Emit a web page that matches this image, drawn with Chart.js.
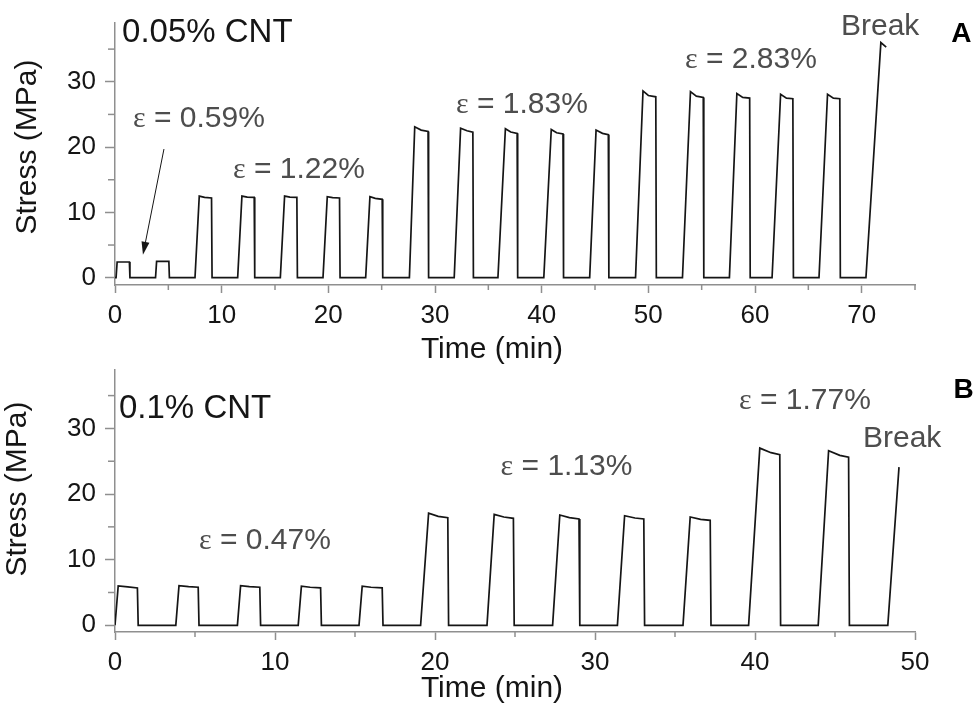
<!DOCTYPE html>
<html>
<head>
<meta charset="utf-8">
<script src="https://cdn.jsdelivr.net/npm/chart.js@4.4.1/dist/chart.umd.min.js"></script>
<style>
    html, body { margin: 0; padding: 0; background: #fff; }
    .panel { position: absolute; left: 0; }
    #panelA { top: 0; }
    #panelB { top: 365px; }
</style>
</head>
<body>
<div class="panel" id="panelA"><canvas id="chartA" width="977" height="365"></canvas></div>
<div class="panel" id="panelB"><canvas id="chartB" width="977" height="342"></canvas></div>
<script>
// Panel A: 0.05% CNT, stress vs time
const timeA = [
    0, 0.1, 0.2, 1.35, 1.4,
    3.8, 3.9, 5.05, 5.1,
    7.5, 7.9, 8.4, 9.05, 9.1,
    11.5, 11.9, 12.4, 13.05, 13.1,
    15.5, 15.9, 16.4, 17.05, 17.1,
    19.5, 19.9, 20.4, 21.05, 21.1,
    23.5, 23.9, 24.4, 25.05, 25.1,
    27.6, 28.1, 28.7, 29.35, 29.4,
    31.8, 32.4, 33.0, 33.55, 33.6,
    35.9, 36.6, 37.1, 37.7, 37.75,
    40.2, 40.9, 41.4, 42.0, 42.05,
    44.5, 45.1, 45.7, 46.25, 46.3,
    48.8, 49.5, 50.0, 50.7, 50.75,
    53.2, 53.95, 54.5, 55.15, 55.2,
    57.6, 58.3, 58.85, 59.5, 59.55,
    61.6, 62.4, 62.95, 63.55, 63.6,
    66.0, 66.8, 67.35, 67.95, 68.0,
    70.4, 71.8, 72.3
];
const stressA = [
    0, 0, 2.4, 2.4, 0,
    0, 2.5, 2.5, 0,
    0, 12.5, 12.3, 12.2, 0,
    0, 12.5, 12.35, 12.3, 0,
    0, 12.5, 12.35, 12.3, 0,
    0, 12.4, 12.25, 12.2, 0,
    0, 12.4, 12.15, 12.0, 0,
    0, 23.1, 22.6, 22.4, 0,
    0, 22.9, 22.5, 22.3, 0,
    0, 22.8, 22.3, 22.1, 0,
    0, 22.7, 22.2, 22.0, 0,
    0, 22.6, 22.1, 21.9, 0,
    0, 28.6, 27.9, 27.7, 0,
    0, 28.5, 27.8, 27.6, 0,
    0, 28.2, 27.6, 27.5, 0,
    0, 28.1, 27.5, 27.4, 0,
    0, 28.1, 27.5, 27.4, 0,
    0, 36.0, 35.3
];

// Panel B: 0.1% CNT
const timeB = [
    0, 0.2, 0.8, 1.4, 1.45,
    3.8, 4.0, 4.6, 5.2, 5.25,
    7.65, 7.85, 8.4, 9.05, 9.1,
    11.45, 11.65, 12.2, 12.85, 12.9,
    15.25, 15.45, 16.0, 16.7, 16.75,
    19.1, 19.6, 20.2, 20.8, 20.85,
    23.25, 23.7, 24.3, 24.9, 24.95,
    27.35, 27.8, 28.4, 29.0, 29.05,
    31.4, 31.85, 32.5, 33.05, 33.1,
    35.5, 35.95, 36.6, 37.2, 37.25,
    39.6, 40.3, 41.0, 41.55, 41.6,
    43.95, 44.6, 45.3, 45.85, 45.9,
    48.3, 49.0
];
const stressB = [
    0, 6.0, 5.85, 5.7, 0,
    0, 6.05, 5.9, 5.8, 0,
    0, 6.05, 5.9, 5.8, 0,
    0, 5.95, 5.8, 5.7, 0,
    0, 5.95, 5.8, 5.7, 0,
    0, 17.1, 16.6, 16.4, 0,
    0, 16.9, 16.5, 16.3, 0,
    0, 16.8, 16.4, 16.2, 0,
    0, 16.7, 16.35, 16.2, 0,
    0, 16.5, 16.15, 16.0, 0,
    0, 27.0, 26.3, 26.0, 0,
    0, 26.6, 25.9, 25.6, 0,
    0, 24.1
];

// Axis ticks
const xTicksA = [0, 5, 10, 15, 20, 25, 30, 35, 40, 45, 50, 55, 60, 65, 70, 75];
const xTicksB = [0, 5, 10, 15, 20, 25, 30, 35, 40, 45, 50];
const yTicks = [0, 5, 10, 15, 20, 25, 30, 35];

// Strain labels [text, time, stress]
const strainA = [['0.59%', 1.69, 23.1], ['1.22%', 11.06, 15.3], ['1.83%', 31.97, 25.25], ['2.83%', 53.44, 32.15]];
const strainB = [['0.47%', 5.25, 11.6], ['1.13%', 24.1, 22.9], ['1.77%', 39.0, 32.9]];

const AXIS = '#8f8f8f';
const INK = '#151515';
const NOTE = '#4d4d4d';
const SANS = '"Liberation Sans", Arial, sans-serif';

function toPoints(xs, ys) {
    return xs.map((x, i) => ({ x: x, y: ys[i] }));
}

function drawStrain(ctx, text, x, y) {
    ctx.fillStyle = NOTE;
    ctx.textAlign = 'left';
    ctx.textBaseline = 'alphabetic';
    ctx.font = '30px "Liberation Serif", serif';
    ctx.fillText('\u03b5', x, y);
    const w = ctx.measureText('\u03b5').width;
    ctx.font = '30px ' + SANS;
    ctx.fillText(' = ' + text, x + w, y);
}

// Minor ticks, axis titles and labels
const decorPlugin = {
    id: 'decor',
    afterDraw(chart, args, opts) {
        const ctx = chart.ctx;
        const xs = chart.scales.x, ys = chart.scales.y;
        ctx.save();
        ctx.strokeStyle = AXIS;
        ctx.lineWidth = 1.5;
        xs.ticks.forEach(t => {
            if (t.value % 10 === 0) return;
            const px = xs.getPixelForValue(t.value);
            ctx.beginPath();
            ctx.moveTo(px, xs.top);
            ctx.lineTo(px, xs.top + 5);
            ctx.stroke();
        });
        ys.ticks.forEach(t => {
            if (t.value % 10 === 0) return;
            const py = ys.getPixelForValue(t.value);
            ctx.beginPath();
            ctx.moveTo(ys.right, py);
            ctx.lineTo(ys.right - 7, py);
            ctx.stroke();
        });

        // axis titles
        ctx.fillStyle = INK;
        ctx.font = '30px ' + SANS;
        ctx.textAlign = 'center';
        ctx.textBaseline = 'alphabetic';
        ctx.fillText('Time (min)', opts.xTitle[0], opts.xTitle[1]);
        ctx.save();
        ctx.translate(opts.yTitle[0], opts.yTitle[1]);
        ctx.rotate(-Math.PI / 2);
        ctx.fillText('Stress (MPa)', 0, 0);
        ctx.restore();

        // sample name
        ctx.textAlign = 'left';
        ctx.font = '33px ' + SANS;
        ctx.fillText(opts.name[0], xs.getPixelForValue(opts.name[1]), ys.getPixelForValue(opts.name[2]));

        // strain labels
        opts.strain.forEach(s => drawStrain(ctx, s[0], xs.getPixelForValue(s[1]), ys.getPixelForValue(s[2])));

        // break
        ctx.fillStyle = NOTE;
        ctx.font = '30px ' + SANS;
        ctx.fillText('Break', xs.getPixelForValue(opts.brk[0]), ys.getPixelForValue(opts.brk[1]));

        // panel letter
        ctx.fillStyle = '#000';
        ctx.font = 'bold 28px ' + SANS;
        ctx.fillText(opts.letter[0], xs.getPixelForValue(opts.letter[1]), ys.getPixelForValue(opts.letter[2]));

        // arrow
        if (opts.arrow) {
            const x1 = xs.getPixelForValue(opts.arrow[0]), y1 = ys.getPixelForValue(opts.arrow[1]);
            const x2 = xs.getPixelForValue(opts.arrow[2]), y2 = ys.getPixelForValue(opts.arrow[3]);
            const a = Math.atan2(y2 - y1, x2 - x1);
            ctx.strokeStyle = INK;
            ctx.lineWidth = 1;
            ctx.beginPath();
            ctx.moveTo(x1, y1);
            ctx.lineTo(x2 - 10 * Math.cos(a), y2 - 10 * Math.sin(a));
            ctx.stroke();
            ctx.fillStyle = INK;
            ctx.beginPath();
            ctx.moveTo(x2, y2);
            ctx.lineTo(x2 - 13 * Math.cos(a) + 4 * Math.sin(a), y2 - 13 * Math.sin(a) - 4 * Math.cos(a));
            ctx.lineTo(x2 - 13 * Math.cos(a) - 4 * Math.sin(a), y2 - 13 * Math.sin(a) + 4 * Math.cos(a));
            ctx.closePath();
            ctx.fill();
        }
        ctx.restore();
    }
};

function makeChart(id, xs, ys, xMax, xTicks, yMin, yMax, padTop, xHeight, decor) {
    const ctx = document.getElementById(id).getContext('2d');
    return new Chart(ctx, {
        type: 'line',
        data: {
            datasets: [{
                data: toPoints(xs, ys),
                borderColor: INK,
                borderWidth: 1.7,
                pointRadius: 0,
                tension: 0,
                fill: false
            }]
        },
        options: {
            responsive: false,
            animation: false,
            layout: { padding: { top: padTop, right: 62, left: 0, bottom: 0 } },
            plugins: {
                legend: { display: false },
                tooltip: { enabled: false },
                decor: decor
            },
            scales: {
                x: {
                    type: 'linear',
                    min: 0,
                    max: xMax,
                    afterBuildTicks: s => { s.ticks = xTicks.map(v => ({ value: v })); },
                    afterFit: s => {
                        s.height = xHeight;
                        s.paddingLeft = 0;
                        s.paddingRight = 0;
                    },
                    ticks: {
                        autoSkip: false,
                        maxRotation: 0,
                        padding: 7,
                        color: INK,
                        font: { family: SANS, size: 26 },
                        callback: v => (v % 10 === 0 ? v : '')
                    },
                    grid: {
                        drawOnChartArea: false,
                        tickLength: 8,
                        tickWidth: 1.5,
                        tickColor: c => (c.tick && c.tick.value % 10 === 0 ? AXIS : 'rgba(0,0,0,0)')
                    },
                    border: { color: AXIS, width: 1.5 }
                },
                y: {
                    min: yMin,
                    max: yMax,
                    afterBuildTicks: s => { s.ticks = yTicks.map(v => ({ value: v })); },
                    afterFit: s => {
                        s.width = 115;
                        s.paddingTop = 0;
                        s.paddingBottom = 0;
                    },
                    ticks: {
                        autoSkip: false,
                        padding: 9,
                        color: INK,
                        font: { family: SANS, size: 26 },
                        callback: v => (v % 10 === 0 ? v : '')
                    },
                    grid: {
                        drawOnChartArea: false,
                        tickLength: 10,
                        tickWidth: 1.5,
                        tickColor: c => (c.tick && c.tick.value % 10 === 0 ? AXIS : 'rgba(0,0,0,0)')
                    },
                    border: { color: AXIS, width: 1.5 }
                }
            }
        },
        plugins: [decorPlugin]
    });
}

makeChart('chartA', timeA, stressA, 75, xTicksA, -1.12, 39, 23, 80, {
    xTitle: [492, 358],
    yTitle: [36, 147],
    name: ['0.05% CNT', 0.66, 36.1],
    strain: strainA,
    brk: [68.06, 37.2],
    letter: ['A', 78.4, 36.1],
    arrow: [4.59, 19.7, 2.62, 3.5]
});

makeChart('chartB', timeB, stressB, 50, xTicksB, -1.02, 38.9, 5, 75, {
    xTitle: [492, 332],
    yTitle: [26, 124],
    name: ['0.1% CNT', 0.25, 31.55],
    strain: strainB,
    brk: [46.75, 27.1],
    letter: ['B', 52.4, 34.6]
});
</script>
</body>
</html>
